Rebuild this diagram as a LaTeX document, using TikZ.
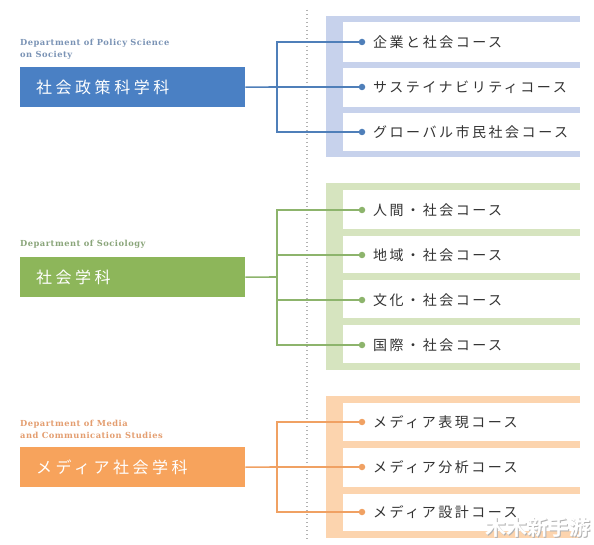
\documentclass[tikz,border=0pt]{standalone}
\usepackage{fontspec}
\setmainfont{Liberation Serif}
\newfontfamily\jpfont{Noto Sans CJK JP}
\newfontfamily\jpbold{Noto Sans CJK JP Bold}
\newfontfamily\jptitle[LetterSpace=22]{Noto Sans CJK JP}
\newfontfamily\jpcourse[LetterSpace=18]{Noto Sans CJK JP}
\newfontfamily\enlabel[LetterSpace=6]{DejaVu Serif Bold}
\definecolor{bluebox}{HTML}{4A80C4}
\definecolor{blueline}{HTML}{4F7FB9}
\definecolor{bluebar}{HTML}{C7D2EC}
\definecolor{bluelab}{HTML}{7A93B5}
\definecolor{greenbox}{HTML}{8DB65A}
\definecolor{greenline}{HTML}{8DB46C}
\definecolor{greenbar}{HTML}{D6E4BF}
\definecolor{greenlab}{HTML}{8AA57A}
\definecolor{orangebox}{HTML}{F7A35C}
\definecolor{orangeline}{HTML}{F0A163}
\definecolor{orangebar}{HTML}{FCD4AE}
\definecolor{orangelab}{HTML}{E49E70}
\definecolor{coursetext}{HTML}{333333}
\tikzset{
  deptbox/.style={inner sep=0pt, minimum width=225pt, minimum height=40pt, anchor=north west},
  depttitle/.style={anchor=west, text=white, font=\jptitle\fontsize{16}{18}\selectfont, inner sep=0pt},
  deptlabel/.style={anchor=south west, align=left, inner sep=0pt, font=\enlabel\fontsize{8.3}{12.5}\selectfont},
  course/.style={anchor=west, inner sep=0pt, text=coursetext, font=\jpcourse\fontsize{14}{16}\selectfont},
  conn/.style={line width=1.6pt},
  cdot/.style={circle, inner sep=0pt, minimum size=6.5pt},
}
\begin{document}
\begin{tikzpicture}[x=1pt,y=-1pt]
\useasboundingbox[fill=white] (0,0) rectangle (594,545);
% dotted divider
\coordinate (dvtop) at (307,10);
\coordinate (dvbot) at (307,542);
\draw[gray!60, line width=1.2pt, dash pattern=on 1pt off 3pt] (dvtop) -- (dvbot);

% ===== Blue section =====
\fill[bluebar] (326,16) rectangle (343,157);
\fill[bluebar] (326,16) rectangle (580,22);
\fill[bluebar] (343,62) rectangle (580,68);
\fill[bluebar] (343,107) rectangle (580,113);
\fill[bluebar] (326,151) rectangle (580,157);
\node[deptlabel, text=bluelab] (lab1) at (20,60) {Department of Policy Science\\on Society};
\node[deptbox, fill=bluebox] (box1) at (20,67) {};
\node[depttitle] (t1) at (36,87) {社会政策科学科};
\coordinate (j1) at (277,87);
\coordinate (j1t) at (277,42);
\coordinate (j1b) at (277,132);
\node[cdot, fill=blueline] (d11) at (362,42) {};
\node[cdot, fill=blueline] (d12) at (362,87) {};
\node[cdot, fill=blueline] (d13) at (362,132) {};
\draw[conn, blueline] (box1.east) -- (j1);
\draw[conn, blueline] (d11.center) -- (j1t) -- (j1b) -- (d13.center);
\draw[conn, blueline] (j1) -- (d12.center);
\node[course] (c11) at (373,42) {企業と社会コース};
\node[course] (c12) at (373,87) {サステイナビリティコース};
\node[course] (c13) at (373,132) {グローバル市民社会コース};

% ===== Green section =====
\fill[greenbar] (326,183) rectangle (343,370);
\fill[greenbar] (326,183) rectangle (580,190);
\fill[greenbar] (343,229) rectangle (580,236);
\fill[greenbar] (343,273) rectangle (580,280);
\fill[greenbar] (343,318) rectangle (580,325);
\fill[greenbar] (326,363) rectangle (580,370);
\node[deptlabel, text=greenlab] (lab2) at (20,249) {Department of Sociology};
\node[deptbox, fill=greenbox] (box2) at (20,257) {};
\node[depttitle] (t2) at (36,277) {社会学科};
\coordinate (j2) at (277,277);
\coordinate (j2t) at (277,210);
\coordinate (j2b) at (277,345);
\node[cdot, fill=greenline] (d21) at (362,210) {};
\node[cdot, fill=greenline] (d22) at (362,255) {};
\node[cdot, fill=greenline] (d23) at (362,300) {};
\node[cdot, fill=greenline] (d24) at (362,345) {};
\coordinate (j22) at (277,255);
\coordinate (j23) at (277,300);
\draw[conn, greenline] (box2.east) -- (j2);
\draw[conn, greenline] (d21.center) -- (j2t) -- (j2b) -- (d24.center);
\draw[conn, greenline] (j22) -- (d22.center);
\draw[conn, greenline] (j23) -- (d23.center);
\node[course] (c21) at (373,210) {人間・社会コース};
\node[course] (c22) at (373,255) {地域・社会コース};
\node[course] (c23) at (373,300) {文化・社会コース};
\node[course] (c24) at (373,345) {国際・社会コース};

% ===== Orange section =====
\fill[orangebar] (326,396) rectangle (343,538);
\fill[orangebar] (326,396) rectangle (580,403);
\fill[orangebar] (343,441) rectangle (580,448);
\fill[orangebar] (343,487) rectangle (580,494);
\fill[orangebar] (326,531) rectangle (580,538);
\node[deptlabel, text=orangelab] (lab3) at (20,439) {Department of Media\\and Communication Studies};
\node[deptbox, fill=orangebox] (box3) at (20,447) {};
\node[depttitle] (t3) at (36,467) {メディア社会学科};
\coordinate (j3) at (277,467);
\coordinate (j3t) at (277,422);
\coordinate (j3b) at (277,512);
\node[cdot, fill=orangeline] (d31) at (362,422) {};
\node[cdot, fill=orangeline] (d32) at (362,467) {};
\node[cdot, fill=orangeline] (d33) at (362,512) {};
\draw[conn, orangeline] (box3.east) -- (j3);
\draw[conn, orangeline] (d31.center) -- (j3t) -- (j3b) -- (d33.center);
\draw[conn, orangeline] (j3) -- (d32.center);
\node[course] (c31) at (373,422) {メディア表現コース};
\node[course] (c32) at (373,467) {メディア分析コース};
\node[course] (c33) at (373,512) {メディア設計コース};

% watermark
\node[anchor=east, inner sep=0pt, text=gray!60, font=\jpbold\fontsize{21}{22}\selectfont] (wm0) at (591.8,528.8) {木木新手游};
\node[anchor=east, inner sep=0pt, text=white, font=\jpbold\fontsize{21}{22}\selectfont] (wm) at (591,528) {木木新手游};
\end{tikzpicture}
\end{document}
